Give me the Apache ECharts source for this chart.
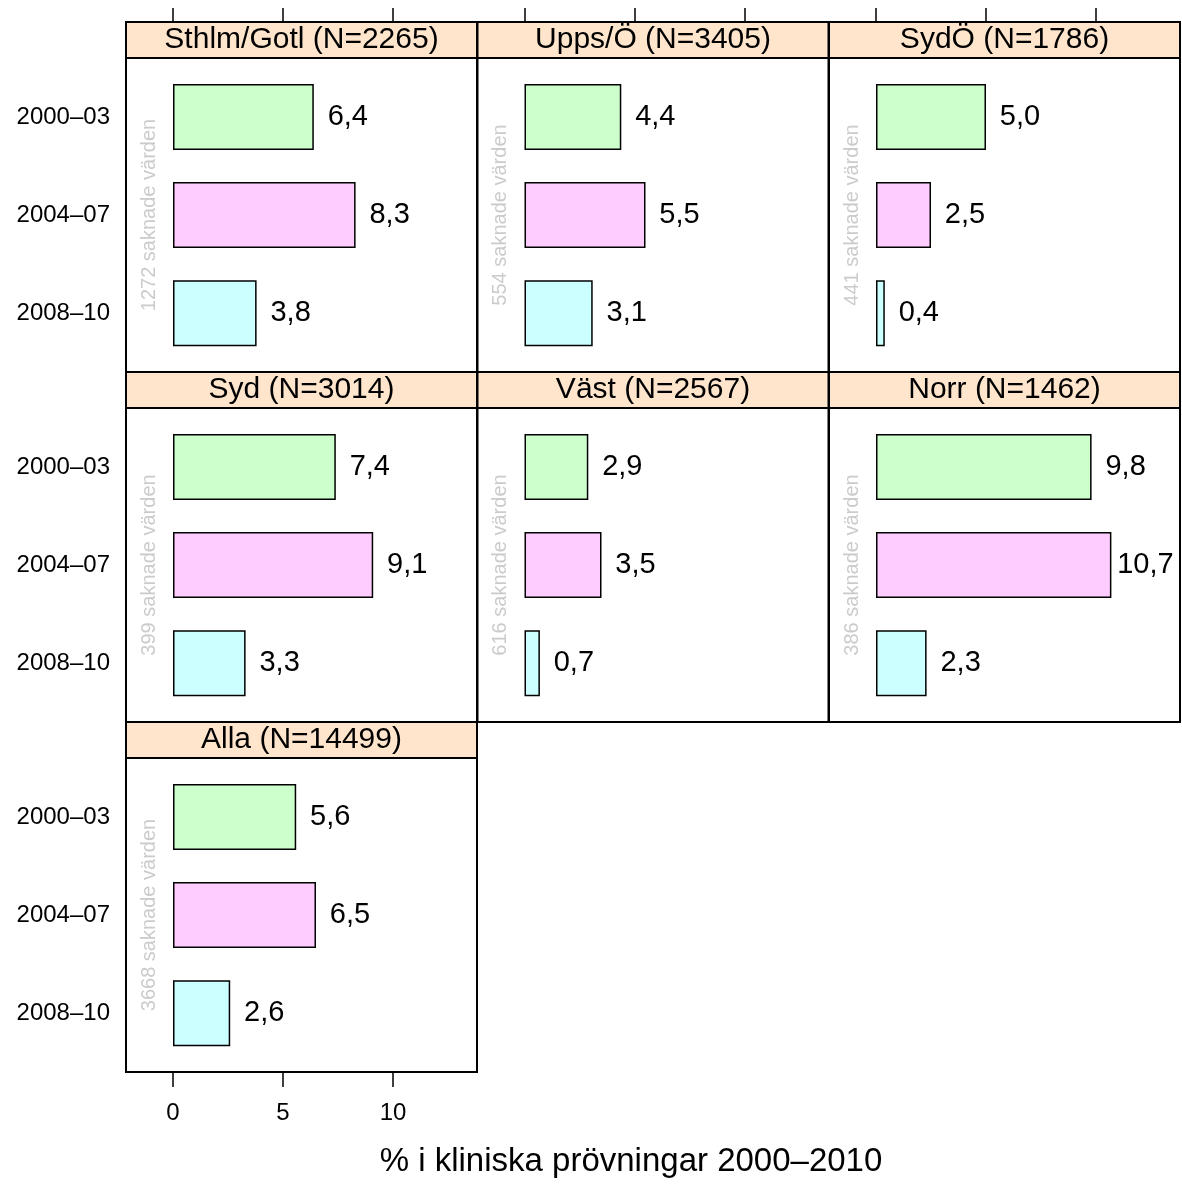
<!DOCTYPE html>
<html>
<head>
<meta charset="utf-8">
<script src="https://cdn.jsdelivr.net/npm/echarts@6/dist/echarts.min.js"></script>
<style>
  html, body { margin: 0; padding: 0; background: #fff; }
  #chart { width: 1182px; height: 1184px; }
</style>
</head>
<body>
<div id="chart"></div>
<script>
// ---- data ----
const periods = ['2000–03', '2004–07', '2008–10'];
const regions = ['Sthlm/Gotl', 'Upps/Ö', 'SydÖ', 'Syd', 'Väst', 'Norr', 'Alla'];
const regionN = [2265, 3405, 1786, 3014, 2567, 1462, 14499];
const missing = [1272, 554, 441, 399, 616, 386, 3668];
const pct2000_03 = [6.4, 4.4, 5.0, 7.4, 2.9, 9.8, 5.6];
const pct2004_07 = [8.3, 5.5, 2.5, 9.1, 3.5, 10.7, 6.5];
const pct2008_10 = [3.8, 3.1, 0.4, 3.3, 0.7, 2.3, 2.6];
const xTicks = [0, 5, 10];
const xTitle = '% i kliniska prövningar 2000–2010';

// ---- styles / layout ----
const fills = ['#CCFFCC', '#FFCCFF', '#CCFFFF'];
const FONT = 'Liberation Sans, Arial, Helvetica, sans-serif';
const colLeft0 = 126, colW = 351.5, panelW = 351;
const rowTop0 = 22, rowH = 350, stripH = 36, bodyH = 314;
const pxPerUnit = 22, zeroOff = 47;
const xMin = -zeroOff / pxPerUnit, xMax = (panelW - zeroOff) / pxPerUnit;
const inset = 0.1 * bodyH / 3.2;
const missX = -1.07;

const grids = [], xAxes = [], yAxes = [], series = [], graphics = [];

regions.forEach((reg, i) => {
  const col = i % 3, row = Math.floor(i / 3);
  const left = colLeft0 + col * colW;
  const top = rowTop0 + row * rowH;
  const bodyTop = top + stripH;
  grids.push({ left: left, top: bodyTop + inset, width: panelW, height: bodyH - 2 * inset, containLabel: false });

  const isTop = row === 0;
  const isBottom = reg === 'Alla';
  xAxes.push({
    gridIndex: i, type: 'value', min: xMin, max: xMax,
    position: isBottom ? 'bottom' : 'top',
    offset: isBottom ? inset : inset + stripH,
    axisLine: { show: false },
    splitLine: { show: false },
    axisTick: { show: isTop || isBottom, inside: false, length: isBottom ? 15 : 14,
      customValues: xTicks, lineStyle: { color: '#000', width: 1.5 } },
    axisLabel: { show: isBottom, customValues: xTicks, fontSize: 24, color: '#000',
      fontFamily: FONT, margin: 29 }
  });
  yAxes.push({
    gridIndex: i, type: 'category', data: periods, inverse: true,
    axisLine: { show: false }, axisTick: { show: false }, splitLine: { show: false },
    axisLabel: { show: col === 0, fontSize: 24, color: '#000', fontFamily: FONT, margin: 16 }
  });

  const vals = [pct2000_03[i], pct2004_07[i], pct2008_10[i]];
  series.push({
    type: 'bar', xAxisIndex: i, yAxisIndex: i, barWidth: 66,
    data: vals.map((v, k) => ({ value: v, itemStyle: { color: fills[k] } })),
    itemStyle: { borderColor: '#000', borderWidth: 1.5 },
    label: { show: true, position: 'right', distance: 34, align: 'center', verticalAlign: 'middle',
      fontSize: 29, color: '#000', fontFamily: FONT,
      formatter: p => p.value.toFixed(1).replace('.', ',') },
    emphasis: { disabled: true }, animation: false
  });
  series.push({
    type: 'scatter', xAxisIndex: i, yAxisIndex: i, symbolSize: 0,
    data: [[missX, 1]],
    label: { show: true, position: 'inside', rotate: 90, fontSize: 20, color: '#BEBEBE',
      fontFamily: FONT, formatter: missing[i] + ' saknade värden' },
    silent: true, animation: false
  });

  graphics.push({
    type: 'rect', z: 100, shape: { x: left, y: top, width: panelW, height: stripH },
    style: { fill: '#FFE5CC', stroke: '#000', lineWidth: 2 }
  });
  graphics.push({
    type: 'text', z: 101, x: left + panelW / 2, y: top + stripH / 2,
    style: { text: reg + ' (N=' + regionN[i] + ')', fontSize: 30, fontFamily: FONT, fill: '#000',
      align: 'center', verticalAlign: 'middle' }
  });
  graphics.push({
    type: 'rect', z: 100, shape: { x: left, y: bodyTop, width: panelW, height: bodyH },
    style: { fill: 'none', stroke: '#000', lineWidth: 2 }
  });
});

graphics.push({
  type: 'text', z: 101, x: 631, y: 1162,
  style: { text: xTitle, fontSize: 33, fontFamily: FONT, fill: '#000', align: 'center', verticalAlign: 'middle' }
});

const chart = echarts.init(document.getElementById('chart'), null, { renderer: 'canvas' });
chart.setOption({
  backgroundColor: '#fff',
  animation: false,
  grid: grids, xAxis: xAxes, yAxis: yAxes, series: series, graphic: graphics
});
</script>
</body>
</html>
